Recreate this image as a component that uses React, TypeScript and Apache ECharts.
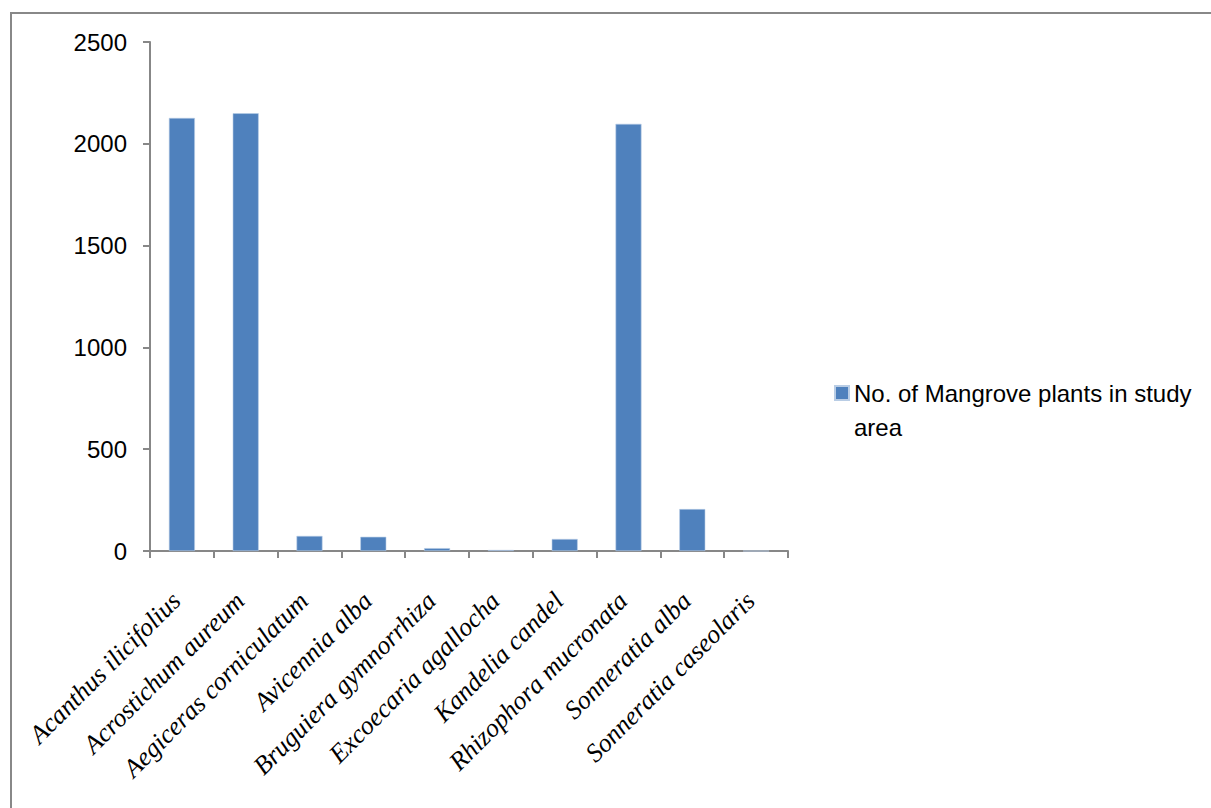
import React, { useEffect, useRef } from "react";
import * as echarts from "echarts";

// Mangrove species counted in the study area
const species = [
  "Acanthus ilicifolius",
  "Acrostichum aureum",
  "Aegiceras corniculatum",
  "Avicennia alba",
  "Bruguiera gymnorrhiza",
  "Excoecaria agallocha",
  "Kandelia candel",
  "Rhizophora mucronata",
  "Sonneratia alba",
  "Sonneratia caseolaris",
];

const plantCounts = [2127, 2150, 74, 70, 14, 5, 59, 2098, 206, 0];

const seriesName = "No. of Mangrove plants in study area";

const yTicks = { min: 0, max: 2500, interval: 500 };

const axisGray = "#878787";
const barBlue = "#4f81bd";

export default function App() {
  const ref = useRef<HTMLDivElement>(null);

  useEffect(() => {
    if (!ref.current) return;
    const chart = echarts.init(ref.current, null, { renderer: "svg" });
    chart.setOption({
      animation: false,
      backgroundColor: "#ffffff",
      graphic: [
        {
          type: "rect",
          shape: { x: 11, y: 13, width: 1220, height: 820 },
          style: { fill: "none", stroke: "#888888", lineWidth: 2 },
          silent: true,
        },
      ],
      grid: { left: 150, right: 423, top: 42, bottom: 257, containLabel: false },
      legend: {
        left: 829,
        top: 371,
        orient: "vertical",
        // square swatch at the top of a taller icon box, so it sits beside the first text line
        icon: "path://M0,0h14v14h-14z M0,48L0.01,48",
        itemWidth: 14,
        itemHeight: 48,
        textStyle: {
          fontFamily: "Liberation Sans",
          fontSize: 24,
          color: "#000000",
          width: 355,
          overflow: "break",
          lineHeight: 34,
        },
        data: [seriesName],
      },
      xAxis: {
        type: "category",
        data: species,
        axisLine: { lineStyle: { color: axisGray, width: 2 } },
        axisTick: { show: true, length: 7, lineStyle: { color: axisGray, width: 2 }, alignWithLabel: false },
        axisLabel: {
          interval: 0,
          rotate: 45,
          margin: 40,
          fontFamily: "Liberation Serif",
          fontStyle: "italic",
          fontSize: 26,
          color: "#000000",
          padding: [0, 8, 0, 0],
        },
      },
      yAxis: {
        type: "value",
        min: yTicks.min,
        max: yTicks.max,
        interval: yTicks.interval,
        splitLine: { show: false },
        axisLine: { show: true, lineStyle: { color: axisGray, width: 2 } },
        axisTick: { show: true, length: 7, lineStyle: { color: axisGray, width: 2 } },
        axisLabel: {
          margin: 23,
          fontFamily: "Liberation Sans",
          fontSize: 24,
          color: "#000000",
          formatter: (v: number) => String(v),
        },
      },
      series: [
        {
          name: seriesName,
          type: "bar",
          data: plantCounts,
          barWidth: 26,
          itemStyle: { color: barBlue, borderColor: "#b9cde5", borderWidth: 0.6 },
        },
      ],
    });
    return () => chart.dispose();
  }, []);

  return (
    <div
      ref={ref}
      style={{ position: "fixed", left: 0, top: 0, width: 1211, height: 808 }}
    />
  );
}
